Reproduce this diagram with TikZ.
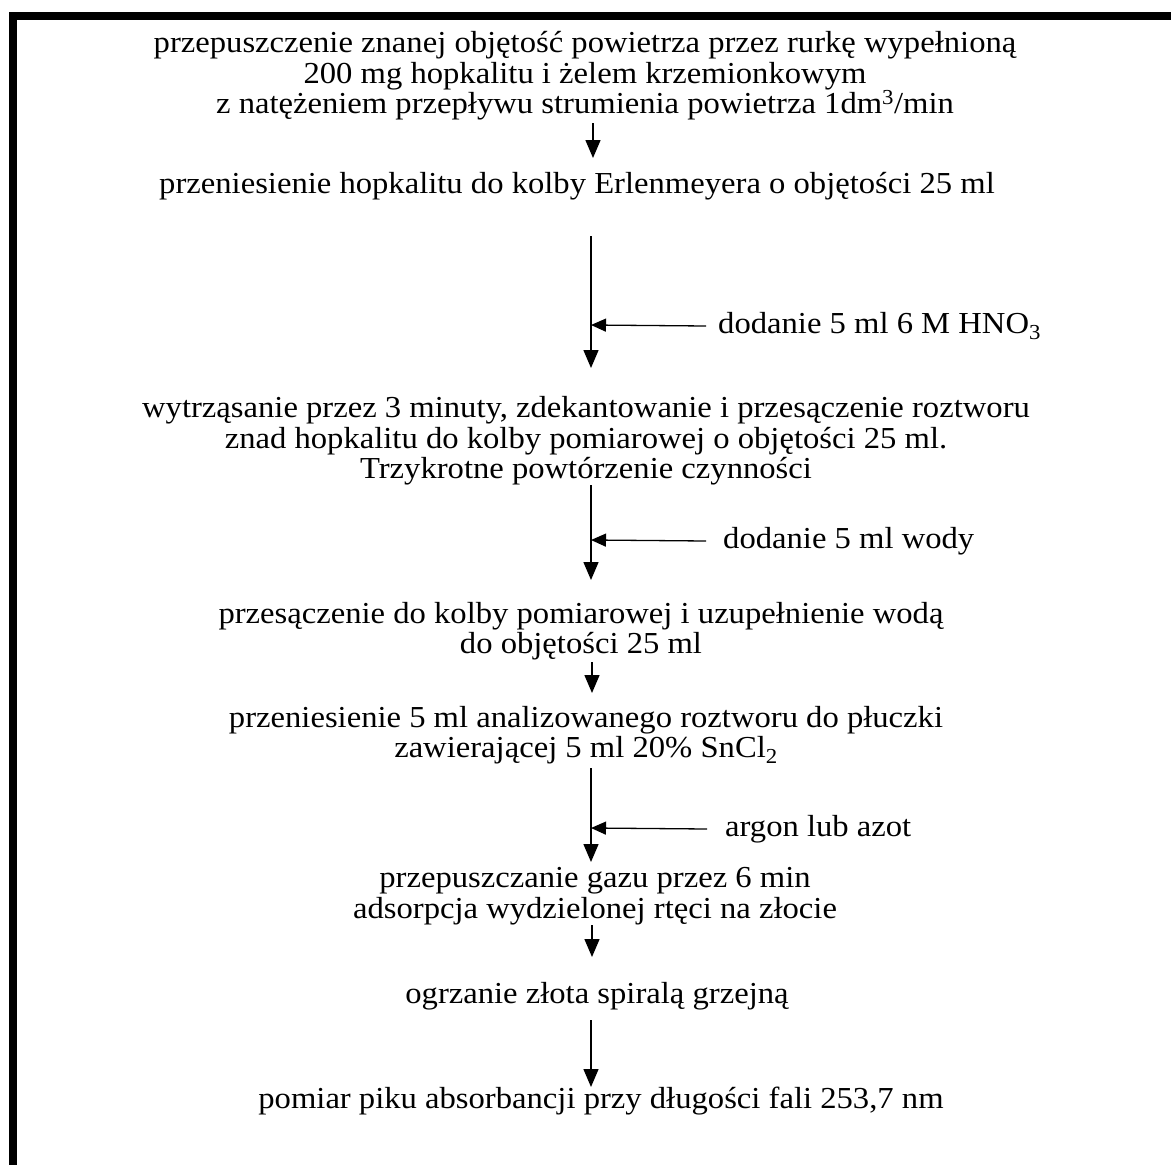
\documentclass[tikz,border=0pt]{standalone}
\usepackage{fontspec}
\setmainfont{Liberation Serif}[FakeStretch=1.07]
\usetikzlibrary{arrows.meta}
\begin{document}
\begin{tikzpicture}[x=1pt,y=-1pt,
  txt/.style={align=center,font=\fontsize{30.5}{30.5}\selectfont,inner sep=0pt},
  lab/.style={anchor=west,font=\fontsize{30.5}{30.5}\selectfont,inner sep=0pt},
  arr/.style={-{Triangle[width=15pt,length=18pt]},line width=1.5pt},
  sarr/.style={-{Triangle[width=13pt,length=15pt]},line width=1.3pt}]
\useasboundingbox (0,0) rectangle (1171,1165);
\fill[white] (0,0) rectangle (1171,1165);
\draw[line width=8pt] (13,1165) -- (13,16) -- (1171,16);

\node[txt] (b1) at (585,76) {przepuszczenie znanej objętość powietrza przez rurkę wypełnioną\\200 mg hopkalitu i żelem krzemionkowym\\z natężeniem przepływu strumienia powietrza 1dm\textsuperscript{3}/min};
\node[txt] (b2) at (577,186) {przeniesienie hopkalitu do kolby Erlenmeyera o objętości 25 ml};
\node[txt] (b3) at (586,441) {wytrząsanie przez 3 minuty, zdekantowanie i przesączenie roztworu\\znad hopkalitu do kolby pomiarowej o objętości 25 ml.\\Trzykrotne powtórzenie czynności};
\node[txt] (b4) at (581,631) {przesączenie do kolby pomiarowej i uzupełnienie wodą\\do objętości 25 ml};
\node[txt] (b5) at (586,735) {przeniesienie 5 ml analizowanego roztworu do płuczki\\zawierającej 5 ml 20\% SnCl\textsubscript{2}};
\node[txt] (b6) at (595,896) {przepuszczanie gazu przez 6 min\\adsorpcja wydzielonej rtęci na złocie};
\node[txt] (b7) at (597,996) {ogrzanie złota spiralą grzejną};
\node[txt] (b8) at (601,1101) {pomiar piku absorbancji przy długości fali 253,7 nm};

\node[lab] (l2) at (718,326) {dodanie 5 ml 6 M HNO\textsubscript{3}};
\node[lab] (l3) at (723,541) {dodanie 5 ml wody};
\node[lab] (l5) at (725,829) {argon lub azot};

\coordinate (a1s) at (593,123); \coordinate (a1e) at (593,158);
\coordinate (a2s) at (591,236); \coordinate (a2e) at (591,368); \coordinate (a2m) at (591,325);
\coordinate (a3s) at (591,485); \coordinate (a3e) at (591,580); \coordinate (a3m) at (591,540);
\coordinate (a4s) at (592,662); \coordinate (a4e) at (592,693);
\coordinate (a5s) at (591,768); \coordinate (a5e) at (591,862); \coordinate (a5m) at (591,828);
\coordinate (a6s) at (592,925); \coordinate (a6e) at (592,957);
\coordinate (a7s) at (591,1020); \coordinate (a7e) at (591,1087);

\draw[arr] (a1s) -- (a1e);
\draw[arr] (a2s) -- (a2e);
\draw[arr] (a3s) -- (a3e);
\draw[arr] (a4s) -- (a4e);
\draw[arr] (a5s) -- (a5e);
\draw[arr] (a6s) -- (a6e);
\draw[arr] (a7s) -- (a7e);

\draw[sarr] ([xshift=-12pt]l2.west) -- (a2m);
\draw[sarr] ([xshift=-17pt]l3.west) -- (a3m);
\draw[sarr] ([xshift=-18pt]l5.west) -- (a5m);
\end{tikzpicture}
\end{document}
